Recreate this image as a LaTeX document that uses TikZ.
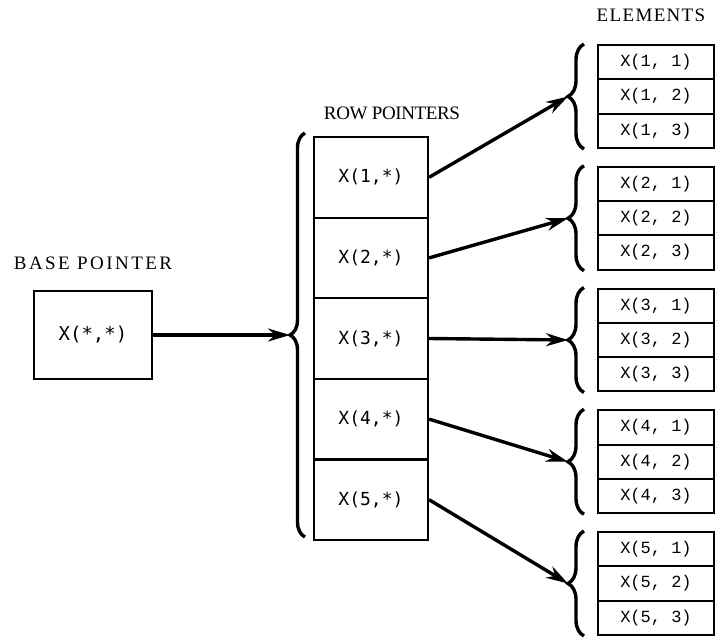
\documentclass[tikz,border=0pt]{standalone}
\usepackage{fontspec}
\setmainfont{Liberation Serif}
\setmonofont{DejaVu Sans Mono}
\newfontfamily\elemfont{Liberation Mono}
\usetikzlibrary{arrows.meta}
\usetikzlibrary{decorations.pathreplacing}

\tikzset{
  ptrbox/.style={draw, line width=2.2pt, minimum width=114pt, minimum height=80.6pt, inner sep=0pt, font=\ttfamily\fontsize{18}{21}\selectfont},
  elembox/.style={draw, line width=2pt, minimum width=116pt, minimum height=34.3pt, inner sep=0pt, font=\elemfont\fontsize{17}{19}\selectfont},
  grpbrace/.style={decorate, decoration={brace, amplitude=#1}, line width=3.4pt},
  ptrarrow/.style={line width=3.4pt, -{Stealth[length=22pt,width=13pt]}},
  heading/.style={font=\fontsize{19}{21}\selectfont\addfontfeature{LetterSpace=#1}}
}

\begin{document}
\begin{tikzpicture}[x=1pt,y=-1pt]
\useasboundingbox (0,0) rectangle (716,643);
% base pointer
\node[heading=13] (basehead) at (93,263) {BASE POINTER};
\node[ptrbox, minimum width=118pt, minimum height=88pt, font=\ttfamily\fontsize{19}{22}\selectfont] (base) at (93,335) {X(*,*)};
% row pointers
\node[heading=-2] (rowhead) at (392,113) {ROW POINTERS};
\foreach \i in {1,...,5}
  \node[ptrbox] (row\i) at (371, {177.3+(\i-1)*80.6}) {X(\i,*)};
\draw[grpbrace=15pt] (305,537) -- (305,133);
\coordinate (rowtip) at (290,335);
\draw[ptrarrow] (base.east) -- (rowtip);
% elements
\node[heading=7] (elemhead) at (651,15) {ELEMENTS};
\foreach \g in {1,...,5}{
  \pgfmathsetmacro\gtop{45+(\g-1)*121.75}
  \foreach \k in {1,2,3}
    \node[elembox] (el\g\k) at (656, {\gtop+17.15+(\k-1)*34.3}) {X(\g, \k)};
  \draw[grpbrace=16pt] (584,{\gtop+104}) -- (584,{\gtop-1});
  \coordinate (tip\g) at (568,{\gtop+51.5});
  \draw[ptrarrow] (row\g.east) -- (tip\g);
}
\end{tikzpicture}
\end{document}
